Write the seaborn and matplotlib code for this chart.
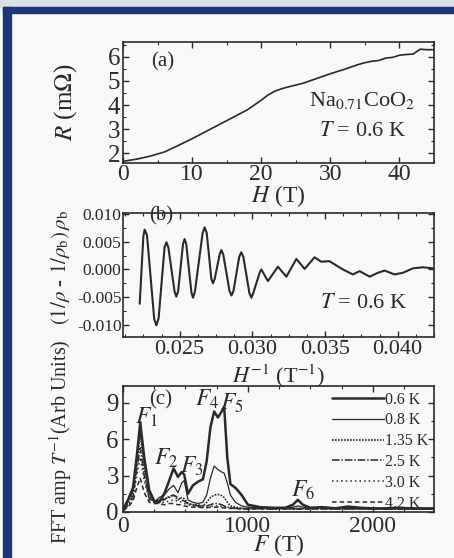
import numpy as np
import pandas as pd
import seaborn as sns
import matplotlib.pyplot as plt
from matplotlib.patches import Rectangle
from matplotlib.ticker import MultipleLocator, FormatStrFormatter

# (a) magnetoresistance
H_field = [0, 2, 4, 6, 8, 10, 12, 14, 16, 18, 20, 21, 22, 23, 24, 26, 28, 30,
           32, 34, 35, 36, 37, 38, 39, 40, 41, 42, 43, 44, 45]
R_mohm = [1.66, 1.75, 1.88, 2.05, 2.32, 2.6, 2.9, 3.2, 3.5, 3.8, 4.2, 4.42, 4.58,
          4.68, 4.76, 4.9, 5.1, 5.3, 5.48, 5.68, 5.76, 5.82, 5.85, 5.95, 5.98,
          6.07, 6.1, 6.12, 6.32, 6.3, 6.3]

# (b) oscillating part vs inverse field
inv_H = [0.02225, 0.0225, 0.02259, 0.02275, 0.02325, 0.0234, 0.02355, 0.02396,
         0.02409, 0.02422, 0.02465, 0.02477, 0.02489, 0.02523, 0.02534, 0.02545,
         0.02581, 0.02592, 0.02605, 0.02658, 0.02672, 0.02686, 0.02718, 0.02729,
         0.02741, 0.02775, 0.02787, 0.028, 0.02843, 0.02856, 0.0287, 0.0291,
         0.02924, 0.02938, 0.0298, 0.02993, 0.03006, 0.0305, 0.03062, 0.03107,
         0.03176, 0.03234, 0.03303, 0.0336, 0.03428, 0.03474, 0.0353, 0.03623,
         0.03692, 0.03738, 0.03807, 0.03864, 0.0391, 0.03979, 0.04036, 0.04105,
         0.04174, 0.04243]
osc = [-0.0062, 0.0060, 0.0072, 0.0062, -0.0090, -0.0101, -0.0088, 0.0040,
       0.0049, 0.0040, -0.0040, -0.0049, -0.0040, 0.0046, 0.0055, 0.0046,
       -0.0042, -0.0051, -0.0040, 0.0066, 0.0076, 0.0066, -0.0017, -0.0025,
       -0.0017, 0.0027, 0.0035, 0.0027, -0.0039, -0.0047, -0.0039, 0.0023,
       0.0031, 0.0023, -0.0043, -0.0051, -0.0043, -0.0006, 0.0000, -0.0021,
       0.0005, -0.0013, 0.0019, 0.0001, 0.0022, 0.0014, 0.0015, 0.0000,
       -0.0009, -0.0003, -0.0013, -0.0006, -0.0002, -0.0009, -0.0006, 0.0002,
       0.0004, 0.0002]

# (c) FFT spectra
freq = [0, 40, 80, 110, 138, 170, 210, 250, 290, 330, 370, 405, 440, 470, 490,
        520, 560, 600, 640, 670, 700, 730, 760, 790, 810, 835, 860, 900, 950,
        1000, 1100, 1200, 1300, 1360, 1400, 1440, 1500, 1600, 1700, 1800, 1900,
        2000, 2100, 2200, 2300, 2400, 2490]
amp_06 = [0.2, 1.0, 2.0, 4.6, 7.4, 4.5, 1.8, 0.9, 0.8, 1.5, 2.6, 3.6, 2.9, 3.3,
          3.1, 1.5, 2.2, 2.5, 2.7, 4.2, 7.0, 8.3, 7.8, 8.3, 8.7, 4.5, 2.3, 2.0,
          1.4, 0.6, 0.4, 0.35, 0.35, 0.6, 1.0, 0.6, 0.35, 0.4, 0.3, 0.45, 0.35,
          0.3, 0.3, 0.35, 0.3, 0.3, 0.3]
amp_08 = [0.2, 0.9, 1.8, 4.2, 6.9, 4.0, 1.6, 0.8, 1.2, 1.4, 1.9, 2.2, 1.6, 2.4,
          2.6, 1.0, 0.8, 0.7, 0.8, 1.4, 2.8, 3.8, 3.5, 3.3, 3.2, 2.4, 1.4, 0.8,
          0.5, 0.4, 0.35, 0.3, 0.3, 0.4, 0.5, 0.4, 0.3, 0.35, 0.3, 0.35, 0.3,
          0.3, 0.25, 0.3, 0.3, 0.25, 0.3]
amp_135 = [0.2, 0.8, 1.6, 4.0, 6.5, 3.6, 1.3, 0.9, 1.0, 1.1, 1.2, 1.4, 1.0, 1.2,
           1.1, 0.7, 0.6, 0.6, 0.5, 0.8, 1.2, 1.4, 1.45, 1.35, 1.2, 0.8, 0.5,
           0.4, 0.3, 0.3, 0.3, 0.25, 0.3, 0.3, 0.3, 0.3, 0.25, 0.3, 0.25, 0.3,
           0.25, 0.25, 0.3, 0.25, 0.25, 0.25, 0.25]
amp_25 = [0.15, 0.6, 1.3, 3.5, 5.3, 3.0, 1.1, 0.9, 1.0, 1.0, 1.3, 1.4, 1.2, 1.0,
          0.9, 0.7, 0.6, 0.5, 0.5, 0.5, 0.6, 0.7, 0.7, 0.6, 0.5, 0.4, 0.35,
          0.3, 0.3, 0.25, 0.3, 0.25, 0.25, 0.3, 0.25, 0.25, 0.3, 0.25, 0.3,
          0.25, 0.25, 0.3, 0.25, 0.25, 0.3, 0.25, 0.25]
amp_30 = [0.1, 0.5, 1.1, 3.0, 4.5, 2.6, 1.0, 0.8, 0.8, 0.8, 0.9, 1.0, 0.9, 0.8,
          0.7, 0.6, 0.5, 0.45, 0.4, 0.4, 0.45, 0.5, 0.5, 0.45, 0.4, 0.35, 0.3,
          0.3, 0.25, 0.25, 0.25, 0.3, 0.25, 0.25, 0.25, 0.3, 0.25, 0.25, 0.25,
          0.3, 0.25, 0.25, 0.25, 0.25, 0.25, 0.25, 0.25]
amp_42 = [0.1, 0.4, 0.9, 2.0, 2.8, 1.6, 0.8, 0.7, 0.7, 0.6, 0.7, 0.7, 0.6, 0.6,
          0.5, 0.45, 0.4, 0.4, 0.35, 0.35, 0.4, 0.4, 0.4, 0.35, 0.35, 0.3, 0.3,
          0.3, 0.25, 0.25, 0.25, 0.25, 0.3, 0.25, 0.25, 0.25, 0.25, 0.3, 0.25,
          0.25, 0.3, 0.25, 0.25, 0.25, 0.25, 0.25, 0.25]
temps = ["0.6 K", "0.8 K", "1.35 K", "2.5 K", "3.0 K", "4.2 K"]
spectra = [amp_06, amp_08, amp_135, amp_25, amp_30, amp_42]
styles = ["-", "-", (0, (1, 0.8)), (0, (5, 1.2, 1, 1.2)), (0, (1, 2)), (0, (3, 2))]
widths = [1.8, 0.9, 1.2, 1.1, 1.1, 1.1]

sns.set_style("ticks")
plt.rcParams["font.family"] = ["Liberation Serif", "DejaVu Serif"]
plt.rcParams["mathtext.fontset"] = "stix"
plt.rcParams["xtick.direction"] = "in"
plt.rcParams["ytick.direction"] = "in"
plt.rcParams["xtick.top"] = True
plt.rcParams["ytick.right"] = True

ink = "#2a2a2a"
bg = "#f8f8f7"
fig = plt.figure(figsize=(4.54, 5.58), dpi=100, facecolor=bg)

# blue frame
fig.add_artist(Rectangle((0, 1 - 7 / 558), 1, 7 / 558, transform=fig.transFigure,
                         color="#dcdfe6", zorder=-1))
fig.add_artist(Rectangle((3 / 454, 1 - 13 / 558), 1, 6 / 558, transform=fig.transFigure,
                         color="#1f3577", zorder=0))
fig.add_artist(Rectangle((3 / 454, 0), 8 / 454, 1 - 7 / 558, transform=fig.transFigure,
                         color="#1f3577", zorder=0))

left, width = 123 / 454, 311 / 454
ax_a = fig.add_axes([left, 1 - 163 / 558, width, 121 / 558])
ax_b = fig.add_axes([left, 1 - 337 / 558, width, 124 / 558])
ax_c = fig.add_axes([left, 1 - 512 / 558, width, 126 / 558])

for ax in (ax_a, ax_b, ax_c):
    ax.set_facecolor("none")
    for s in ax.spines.values():
        s.set_color(ink)
        s.set_linewidth(1.2)
    ax.tick_params(which="major", length=4, width=1, color=ink, pad=2)
    ax.tick_params(which="minor", length=2.2, width=0.8, color=ink)
    ax.tick_params(which="both", top=True, right=True, labelcolor=ink)

# (a)
sns.lineplot(x=H_field, y=R_mohm, ax=ax_a, color=ink, lw=1.2)
ax_a.set_xlim(0, 45)
ax_a.set_ylim(1.59, 6.62)
ax_a.xaxis.set_major_locator(MultipleLocator(10))
ax_a.xaxis.set_minor_locator(MultipleLocator(5))
ax_a.yaxis.set_major_locator(MultipleLocator(1))
ax_a.yaxis.set_minor_locator(MultipleLocator(0.5))
ax_a.tick_params(labelsize=18)
ax_a.tick_params(axis="x", labelsize=17, pad=1)
ax_a.set_xlabel("$H$ (T)", fontsize=17, va="center", color=ink)
ax_a.xaxis.set_label_coords(0.5, -0.27)
ax_a.set_ylabel(r"$R$ (m$\Omega$)", fontsize=18, va="center", color=ink)
ax_a.yaxis.set_label_coords(-0.186, 0.5)
ax_a.text(0.129, 0.835, "(a)", transform=ax_a.transAxes, fontsize=15,
          ha="center", va="center", color=ink)
ax_a.text(0.768, 0.52, r"Na$_{0.71}$CoO$_2$", transform=ax_a.transAxes,
          fontsize=16, ha="center", va="center", color=ink)
ax_a.text(0.772, 0.264, "$T$ = 0.6 K", transform=ax_a.transAxes,
          fontsize=16, ha="center", va="center", color=ink)

# (b)
sns.lineplot(x=inv_H, y=osc, ax=ax_b, color=ink, lw=1.5)
ax_b.set_xlim(0.0211, 0.0425)
ax_b.set_ylim(-0.0122, 0.0102)
ax_b.xaxis.set_major_locator(MultipleLocator(0.005))
ax_b.xaxis.set_minor_locator(MultipleLocator(0.00125))
ax_b.yaxis.set_major_locator(MultipleLocator(0.005))
ax_b.yaxis.set_minor_locator(MultipleLocator(0.0025))
ax_b.xaxis.set_major_formatter(FormatStrFormatter("%.3f"))
ax_b.yaxis.set_major_formatter(FormatStrFormatter("%.3f"))
ax_b.tick_params(axis="y", labelsize=12.5, pad=1)
ax_b.tick_params(axis="x", labelsize=16)
ax_b.set_xlabel("$H^{-1}$ (T$^{-1}$)", fontsize=16, va="center", color=ink)
ax_b.xaxis.set_label_coords(0.5, -0.31)
ax_b.set_ylabel(r"$(1/\rho$ - $1/\rho_{\rm b})\,\rho_{\rm b}$", fontsize=15,
                va="center", color=ink)
ax_b.yaxis.set_label_coords(-0.2, 0.56)
ax_b.text(0.122, 0.976, "(b)", transform=ax_b.transAxes, fontsize=15,
          ha="center", va="center", color=ink)
ax_b.text(0.775, 0.274, "$T$ = 0.6 K", transform=ax_b.transAxes,
          fontsize=16, ha="center", va="center", color=ink)

# (c)
for lab, amp, ls, lw in zip(temps, spectra, styles, widths):
    sns.lineplot(x=freq, y=amp, ax=ax_c, color=ink, lw=lw, linestyle=ls, label=lab)
ax_c.set_xlim(0, 2490)
ax_c.set_ylim(0, 10.4)
ax_c.xaxis.set_major_locator(MultipleLocator(1000))
ax_c.xaxis.set_minor_locator(MultipleLocator(250))
ax_c.yaxis.set_major_locator(MultipleLocator(3))
ax_c.yaxis.set_minor_locator(MultipleLocator(1.5))
ax_c.tick_params(labelsize=18)
ax_c.tick_params(axis="x", labelsize=17, pad=3)
ax_c.tick_params(axis="y", pad=3)
ax_c.set_xlabel("$F$ (T)", fontsize=17, va="center", color=ink)
ax_c.xaxis.set_label_coords(0.5, -0.26)
ax_c.set_ylabel("FFT amp $T^{-1}$(Arb Units)", fontsize=14.5, va="center", color=ink)
ax_c.yaxis.set_label_coords(-0.2, 0.56)
ax_c.text(0.122, 0.889, "(c)", transform=ax_c.transAxes, fontsize=15,
          ha="center", va="center", color=ink)
for txt, fx, fy in [("$F_1$", 192, 7.8), ("$F_2$", 344, 4.4), ("$F_3$", 552, 3.8),
                    ("$F_4$", 672, 9.3), ("$F_5$", 872, 9.0), ("$F_6$", 1440, 1.75)]:
    ax_c.text(fx, fy, txt, fontsize=17, ha="center", va="center", color=ink)
leg = ax_c.legend(loc="upper right", frameon=False, fontsize=11.5, handlelength=3.2,
                  handletextpad=0.1, labelspacing=0.3, borderaxespad=0.15,
                  borderpad=0.2)
for t in leg.get_texts():
    t.set_color(ink)

fig.savefig("out.png", dpi=100, facecolor=bg)
